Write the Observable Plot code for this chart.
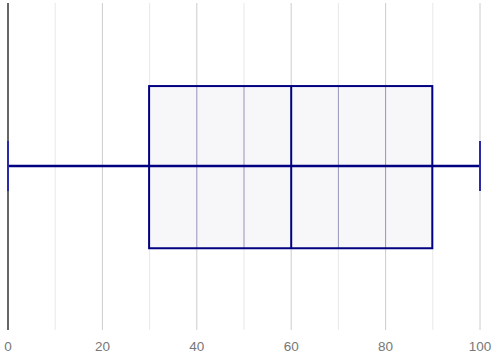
<!DOCTYPE html>
<html>
<head>
<meta charset="utf-8">
<script src="https://cdn.jsdelivr.net/npm/d3@7"></script>
<script src="https://cdn.jsdelivr.net/npm/@observablehq/plot@0.6"></script>
<style>
  html, body { margin: 0; padding: 0; background: #fff; }
  #chart svg { display: block; }
</style>
</head>
<body>
<div id="chart"></div>
<script>
// Box plot statistics
const statNames = ["min", "q1", "median", "q3", "max"];
const statValues = [0, 30, 60, 90, 100];
// Axis ticks
const majorTicks = [0, 20, 40, 60, 80, 100];
const minorTicks = [10, 30, 50, 70, 90];
const tickLabels = ["0", "20", "40", "60", "80", "100"];

const s = Object.fromEntries(statNames.map((n, i) => [n, statValues[i]]));
const boxData = [s];
const allTicks = [...majorTicks, ...minorTicks].sort((a, b) => a - b);
const innerTicks = allTicks.filter(t => t > s.q1 && t < s.q3 && t !== s.median);

const navy = "#000080";

const chart = Plot.plot({
  width: 495,
  height: 363,
  marginLeft: 7.5,
  marginRight: 15.5,
  marginTop: 3,
  marginBottom: 33,
  style: { fontFamily: "'Liberation Sans', Arial, sans-serif", background: "#fff" },
  x: { domain: [0, 100] },
  y: { domain: [0, 1], axis: null },
  marks: [
    Plot.ruleX(minorTicks, { stroke: "#e8e8e8", strokeWidth: 1 }),
    Plot.ruleX(majorTicks.filter(t => t !== 0), { stroke: "#cccccc", strokeWidth: 1 }),
    Plot.ruleX([0], { stroke: "#333333", strokeWidth: 1.5 }),
    Plot.rect(boxData, { x1: "q1", x2: "q3", y1: 0.25, y2: 0.746, fill: "#f7f7fa" }),
    Plot.ruleX(innerTicks, { y1: 0.25, y2: 0.746, stroke: "#9494b8", strokeWidth: 1 }),
    Plot.ruleY([0.503], { x1: s.min, x2: s.max, stroke: navy, strokeWidth: 2.5 }),
    Plot.ruleX([s.min, s.max], { y1: 0.425, y2: 0.578, stroke: "#2a2aa8", strokeWidth: 2 }),
    Plot.rect(boxData, { x1: "q1", x2: "q3", y1: 0.25, y2: 0.746, fill: "none", stroke: navy, strokeWidth: 2 }),
    Plot.ruleX(boxData, { x: "median", y1: 0.25, y2: 0.746, stroke: navy, strokeWidth: 2 }),
    Plot.axisX(majorTicks, {
      tickSize: 0,
      tickPadding: 11,
      tickFormat: (d) => tickLabels[majorTicks.indexOf(d)],
      fontSize: 13.5,
      fill: "#777777",
      label: null
    })
  ]
});
document.getElementById("chart").appendChild(chart);
</script>
</body>
</html>
